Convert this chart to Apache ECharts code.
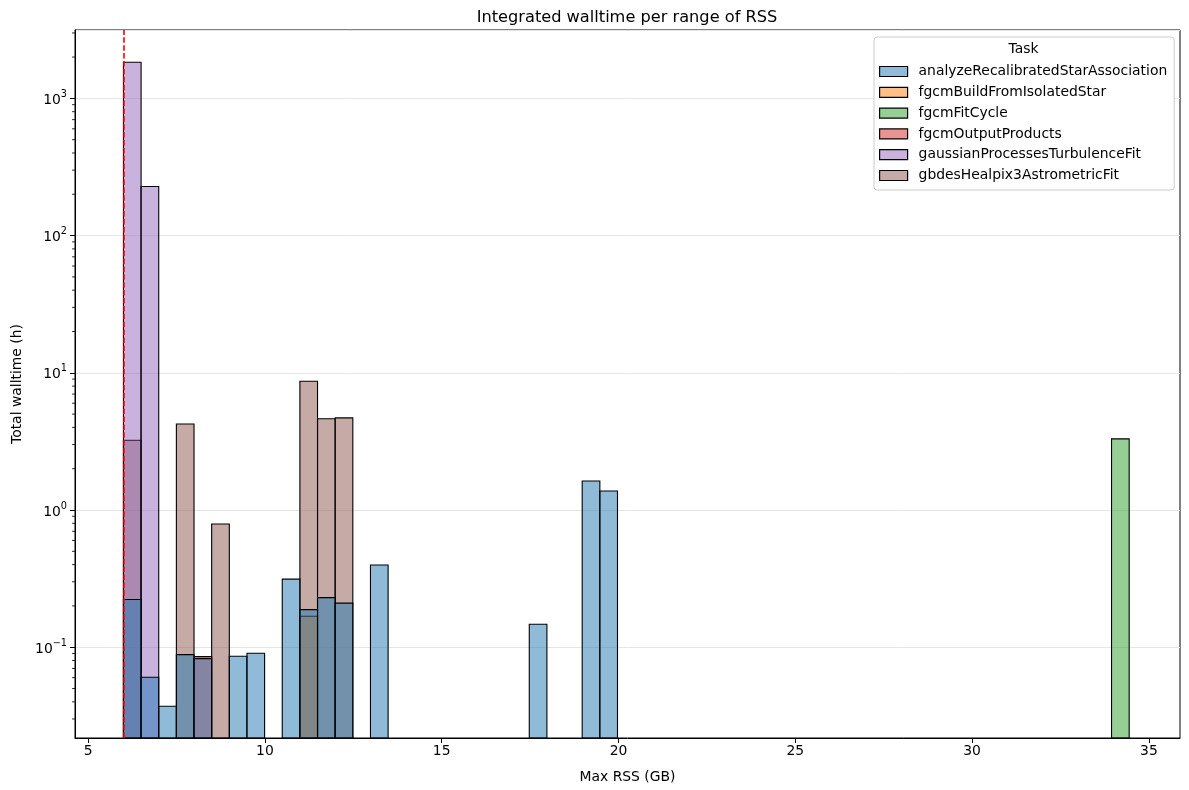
<!DOCTYPE html>
<html><head><meta charset="utf-8">
<script src="https://cdn.jsdelivr.net/npm/echarts@6/dist/echarts.min.js"></script>
<style>html,body{margin:0;padding:0;background:#fff}#c{width:1189px;height:790px}</style>
</head><body><div id="c"></div>
<script>
// ---- data ----
const taskNames = ['analyzeRecalibratedStarAssociation','fgcmBuildFromIsolatedStar','fgcmFitCycle','fgcmOutputProducts','gaussianProcessesTurbulenceFit','gbdesHealpix3AstrometricFit'];
const taskColors = ['rgba(31,119,180,0.5)','rgba(255,127,14,0.5)','rgba(44,160,44,0.5)','rgba(214,39,40,0.5)','rgba(148,103,189,0.5)','rgba(140,86,75,0.5)'];
const binStart = 6.0;      // GB, lower edge of first histogram bin
const binWidth = 0.499;    // GB
// bin indices and total walltime (h) per task
const analyzeBins   = [0, 1, 2, 3, 4, 6, 7, 9, 10, 11, 12, 14, 23, 26, 27];
const analyzeValues = [0.223, 0.0604, 0.0371, 0.0883, 0.0826, 0.086, 0.0904, 0.3135, 0.188, 0.230, 0.2095, 0.397, 0.147, 1.628, 1.376];
const fgcmBuildBins   = [10];
const fgcmBuildValues = [0.168];
const fgcmFitBins   = [56];
const fgcmFitValues = [3.30];
const fgcmOutputBins   = [4];
const fgcmOutputValues = [0.0854];
const gaussianBins   = [0, 1];
const gaussianValues = [1832, 228];
const gbdesBins   = [0, 3, 5, 10, 11, 12];
const gbdesValues = [3.22, 4.24, 0.79, 8.68, 4.62, 4.69];
const thresholdRss = 6.0;
const xMin = 4.63, xMax = 35.88;
const yMin = 0.0218, yMax = 3150;

const seriesBins = [analyzeBins, fgcmBuildBins, fgcmFitBins, fgcmOutputBins, gaussianBins, gbdesBins];
const seriesValues = [analyzeValues, fgcmBuildValues, fgcmFitValues, fgcmOutputValues, gaussianValues, gbdesValues];

const minorVals = [];
for (let e = -2; e <= 3; e++) for (let m = 2; m <= 9; m++) { const v = m*Math.pow(10,e); if (v > yMin && v < yMax) minorVals.push([xMin, v]); }

function makeBarSeries(idx) {
  const data = seriesBins[idx].map((b, j) => [binStart + b*binWidth, seriesValues[idx][j], binStart + (b+1)*binWidth]);
  return {
    name: taskNames[idx], type: 'custom', coordinateSystem: 'cartesian2d',
    encode: {x: [0, 2], y: 1},
    z: 2 + (taskNames.length - idx),
    itemStyle: {color: taskColors[idx], borderColor: '#000', borderWidth: 1},
    data: data,
    renderItem: function (params, api) {
      const p0 = api.coord([api.value(0), api.value(1)]);
      const p1 = api.coord([api.value(2), yMin]);
      return {type: 'rect', shape: {x: p0[0], y: p0[1], width: p1[0]-p0[0], height: p1[1]-p0[1]},
        style: {fill: taskColors[idx], stroke: '#000', lineWidth: 1.1}};
    }
  };
}

const series = [];
for (let i = taskNames.length - 1; i >= 0; i--) series.push(makeBarSeries(i));
// minor log ticks
series.push({
  type: 'custom', coordinateSystem: 'cartesian2d', z: 20, silent: true,
  data: minorVals, clip: false,
  renderItem: function (params, api) {
    const p = api.coord([api.value(0), api.value(1)]);
    return {type: 'line', shape: {x1: p[0]-3, y1: p[1], x2: p[0], y2: p[1]}, style: {stroke: '#000', lineWidth: 0.8}};
  }
});
// red threshold line
series.push({
  type: 'line', data: [], z: 50, silent: true,
  markLine: {silent: true, symbol: 'none', label: {show: false}, z: 50,
    lineStyle: {color: '#ff0000', type: [5.5, 2.4], width: 1.6},
    data: [{xAxis: thresholdRss}]}
});

const font = 'DejaVu Sans';
const chart = echarts.init(document.getElementById('c'), null, {renderer: 'canvas'});
chart.setOption({
  backgroundColor: '#fff',
  animation: false,
  textStyle: {fontFamily: font},
  title: {text: 'Integrated walltime per range of RSS', left: 622, top: 5, textAlign: 'center',
    textStyle: {fontFamily: font, fontSize: 16.2, fontWeight: 'normal', color: '#000'}},
  grid: {left: 75, right: 9, top: 30, bottom: 52, show: true, borderColor: '#000', borderWidth: 1, backgroundColor: 'transparent'},
  xAxis: {
    type: 'value', min: xMin, max: xMax,
    name: 'Max RSS (GB)', nameLocation: 'middle', nameGap: 32,
    nameTextStyle: {fontFamily: font, fontSize: 13.9, color: '#000'},
    axisLine: {show: true, lineStyle: {color: '#000', width: 1}},
    axisTick: {show: true, length: 5, lineStyle: {color: '#000'}},
    axisLabel: {fontFamily: font, fontSize: 13.9, color: '#000', margin: 6, showMinLabel: false, showMaxLabel: false},
    splitLine: {show: false}
  },
  yAxis: {
    type: 'log', logBase: 10, min: yMin, max: yMax,
    name: 'Total walltime (h)', nameLocation: 'middle', nameGap: 50, nameRotate: 90,
    nameTextStyle: {fontFamily: font, fontSize: 13.9, color: '#000'},
    axisLine: {show: true, lineStyle: {color: '#000', width: 1}},
    axisTick: {show: true, length: 5, lineStyle: {color: '#000'}},
    axisLabel: {fontFamily: font, color: '#000', margin: 8, showMinLabel: false, showMaxLabel: false,
      formatter: function (v) { const e = Math.round(Math.log10(v)); return '{b|10}{s|' + (e < 0 ? '\u2212' + (-e) : e) + '}'; },
      rich: {
        b: {fontFamily: font, fontSize: 13.9, color: '#000', lineHeight: 18, verticalAlign: 'bottom'},
        s: {fontFamily: font, fontSize: 9.7, color: '#000', lineHeight: 18, verticalAlign: 'top'}
      }},
    splitLine: {show: true, lineStyle: {color: '#e6e6e6', width: 1}}
  },
  legend: {
    orient: 'vertical', left: 874, top: 37,
    backgroundColor: '#fff', borderColor: '#cccccc', borderWidth: 1, borderRadius: 3,
    padding: [27.5, 7, 7.5, 5],
    itemWidth: 28, itemHeight: 10, itemGap: 6.8,
    textStyle: {fontFamily: font, fontSize: 13.9, color: '#000', lineHeight: 14, padding: [0, 0, 0, 6]},
    data: taskNames.map((n, i) => ({name: n, icon: 'rect', itemStyle: {color: taskColors[i], borderColor: '#000', borderWidth: 1.2}})),
    z: 30
  },
  graphic: [{type: 'text', x: 1023.5, y: 49, z: 100,
    style: {text: 'Task', fill: '#000', font: '13.9px "DejaVu Sans"', align: 'center', verticalAlign: 'middle'}}],
  series: series
});
</script></body></html>
